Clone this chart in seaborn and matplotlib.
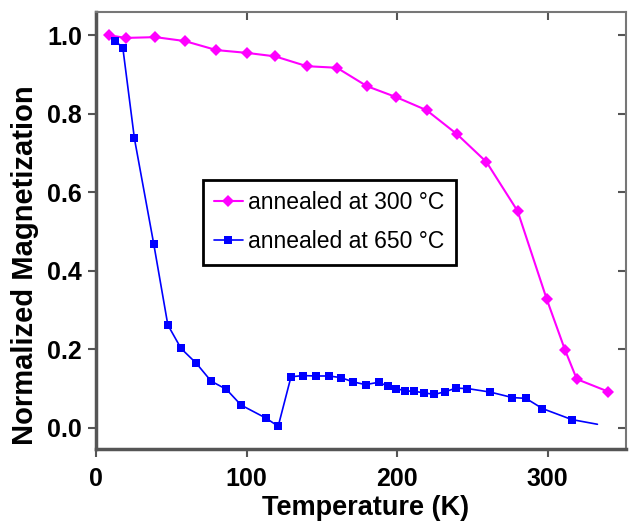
import seaborn as sns
import matplotlib.pyplot as plt
import pandas as pd

# annealed at 300 C
temp_300 = [8.5, 19.6, 39.5, 59, 80, 100, 119, 140, 160, 180, 199.5, 219.5,
            239.7, 259.3, 280, 299.4, 311.5, 319.3, 340.3]
mag_300 = [1.00, 0.993, 0.995, 0.985, 0.962, 0.955, 0.946, 0.921, 0.917, 0.870,
           0.842, 0.809, 0.748, 0.677, 0.552, 0.327, 0.198, 0.124, 0.092]

# annealed at 650 C
temp_650 = [12.9, 17.8, 25.5, 38.4, 47.7, 56.5, 66.7, 76.4, 86.6, 96.3, 112.7, 121,
            129.5, 137.5, 146, 154.5, 162.5, 170.7, 179, 187.7, 193.9, 199.4, 205.4,
            211.3, 218, 224.6, 231.9, 239, 246.7, 261.8, 276.6, 285.5, 296.5, 316, 333]
mag_650 = [0.985, 0.968, 0.737, 0.467, 0.262, 0.202, 0.164, 0.119, 0.098, 0.058, 0.025,
           0.004, 0.130, 0.133, 0.132, 0.132, 0.128, 0.117, 0.110, 0.116, 0.106, 0.100,
           0.094, 0.093, 0.089, 0.085, 0.092, 0.101, 0.100, 0.091, 0.077, 0.075, 0.049,
           0.021, 0.009]

x_ticks = [0, 100, 200, 300]
y_ticks = [0.0, 0.2, 0.4, 0.6, 0.8, 1.0]

sns.set_style('ticks')
plt.rcParams['font.family'] = ['Liberation Sans', 'DejaVu Sans']
plt.rcParams['text.color'] = 'black'
plt.rcParams['axes.labelcolor'] = 'black'
plt.rcParams['xtick.labelcolor'] = 'black'
plt.rcParams['ytick.labelcolor'] = 'black'

fig = plt.figure(figsize=(6.3, 5.29), dpi=100)
ax = fig.add_axes([0.1524, 0.1512, 0.8413, 0.8261])

df300 = pd.DataFrame({'T': temp_300, 'M': mag_300})
df650 = pd.DataFrame({'T': temp_650, 'M': mag_650})

sns.lineplot(data=df300, x='T', y='M', ax=ax, color='#ff00ff', marker='D',
             markersize=6.5, markeredgewidth=0, linewidth=1.5,
             label='annealed at 300 \u00b0C')
sns.lineplot(data=df650, x='T', y='M', ax=ax, color='#0000ff', marker='s',
             markersize=6, markeredgewidth=0, linewidth=1.2,
             markevery=list(range(len(temp_650) - 1)),
             label='annealed at 650 \u00b0C')

ax.set_xlim(0, 352)
ax.set_ylim(-0.054, 1.059)
ax.set_xticks(x_ticks)
ax.set_yticks(y_ticks)
ax.set_yticklabels([f'{v:.1f}' for v in y_ticks])

ax.set_xlabel('Temperature (K)', fontsize=19.5, fontweight='bold')
ax.set_ylabel('Normalized Magnetization', fontsize=21, fontweight='bold')
ax.xaxis.set_label_coords(0.508, -0.105)
ax.yaxis.set_label_coords(-0.108, 0.42)
for lab in ax.get_xticklabels() + ax.get_yticklabels():
    lab.set_fontsize(18)
    lab.set_fontweight('bold')

ax.tick_params(axis='both', direction='out', length=6, width=1.5, color='#555555')
ax.tick_params(axis='x', pad=7)
ax.tick_params(axis='y', pad=4)
ax.tick_params(top=True, right=True)
for tick in ax.xaxis.get_major_ticks():
    tick.tick2line.set_marker(3)  # inward from top
for tick in ax.yaxis.get_major_ticks():
    tick.tick2line.set_marker(0)  # inward from right
    tick.tick2line.set_markersize(6)

for side in ['left', 'bottom']:
    ax.spines[side].set_linewidth(2.5)
    ax.spines[side].set_color('#555555')
for side in ['top', 'right']:
    ax.spines[side].set_linewidth(1.5)
    ax.spines[side].set_color('#777777')

leg = ax.legend(loc='upper left', bbox_to_anchor=(0.201, 0.6156), fontsize=16.5,
                frameon=True, fancybox=False, framealpha=1, handlelength=1.25,
                borderpad=0.5, labelspacing=0.7, handletextpad=0.25, borderaxespad=0)
leg.get_frame().set_edgecolor('black')
leg.get_frame().set_linewidth(2)

fig.savefig('out.png', dpi=100)
